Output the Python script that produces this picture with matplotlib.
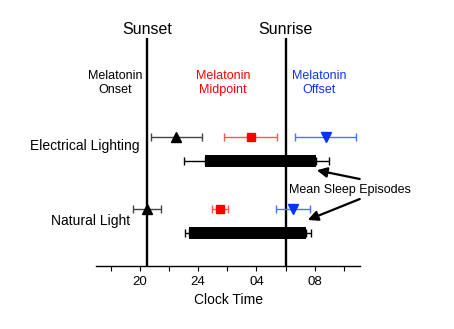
import matplotlib.pyplot as plt

plt.rcParams["font.family"] = ["Liberation Sans", "DejaVu Sans"]

# clock hours, values past 24 wrap to the next morning
conditions = ["Electrical Lighting", "Natural Light"]
onset_mean = [22.49, 20.50]
onset_sd = [1.75, 0.94]
midpoint_mean = [27.60, 25.50]
midpoint_sd = [1.83, 0.52]
offset_mean = [32.74, 30.50]
offset_sd = [2.07, 1.17]
sleep_start = [24.45, 23.36]
sleep_start_sd = [1.42, 0.28]
sleep_end = [32.08, 31.41]
sleep_end_sd = [0.89, 0.30]

sunset = 20.5
sunrise = 30.0
tick_hours = [18, 20, 22, 24, 26, 28, 30, 32, 34]
tick_labels = ["", "20", "", "24", "", "04", "", "08", ""]

marker_rows = [5.375, 2.375]
bar_rows = [4.375, 1.375]

fig = plt.figure(figsize=(4.54, 3.29), dpi=100)
ax = fig.add_axes([0.2115, 0.1915, 0.5815, 0.693])

ax.axvline(sunset, color="black", lw=1.7)
ax.axvline(sunrise, color="black", lw=1.7)
ax.text(sunset, 9.85, "Sunset", ha="center", va="center", fontsize=11.5)
ax.text(sunrise, 9.85, "Sunrise", ha="center", va="center", fontsize=11.5)

ax.text(18.3, 7.63, "Melatonin\nOnset", ha="center", va="center", fontsize=9,
        color="black", linespacing=1.2)
ax.text(25.7, 7.63, "Melatonin\nMidpoint", ha="center", va="center", fontsize=9,
        color="#ff0000", linespacing=1.2)
ax.text(32.3, 7.63, "Melatonin\nOffset", ha="center", va="center", fontsize=9,
        color="#1133ff", linespacing=1.2)

ax.errorbar(onset_mean, marker_rows, xerr=onset_sd, fmt="^", color="black",
            ecolor="#444444", ms=7, capsize=3, elinewidth=1, capthick=1)
ax.errorbar(midpoint_mean, marker_rows, xerr=midpoint_sd, fmt="s", color="#ff0000",
            ecolor="#ff5555", ms=5.5, capsize=3, elinewidth=1, capthick=1)
ax.errorbar(offset_mean, marker_rows, xerr=offset_sd, fmt="v", color="#0033ff",
            ecolor="#4477ff", ms=7, capsize=3, elinewidth=1, capthick=1)

widths = [e - s for s, e in zip(sleep_start, sleep_end)]
ax.barh(bar_rows, widths, left=sleep_start, height=0.46, color="black", zorder=3)
ax.errorbar(sleep_start, bar_rows, xerr=[sleep_start_sd, [0, 0]], fmt="none",
            ecolor="black", capsize=3, elinewidth=1, capthick=1)
ax.errorbar(sleep_end, bar_rows, xerr=[[0, 0], sleep_end_sd], fmt="none",
            ecolor="black", capsize=3, elinewidth=1, capthick=1)

ax.text(19.95, 5.0, conditions[0], ha="right", va="center", fontsize=10)
ax.text(19.33, 1.875, conditions[1], ha="right", va="center", fontsize=10)

ax.text(34.4, 3.17, "Mean Sleep Episodes", ha="center", va="center", fontsize=9)
arrow = dict(arrowstyle="-|>,head_length=0.5,head_width=0.25", color="black",
             lw=1.6, mutation_scale=12, shrinkA=0, shrinkB=0)
ax.annotate("", xy=(32.14, 3.99), xytext=(35.08, 3.625), arrowprops=arrow,
            annotation_clip=False)
ax.annotate("", xy=(31.52, 1.92), xytext=(35.08, 2.79), arrowprops=arrow,
            annotation_clip=False)

ax.set_xlim(17, 35.1)
ax.set_ylim(0, 9.5)
ax.set_xticks(tick_hours)
ax.set_xticklabels(tick_labels, fontsize=9.5)
ax.tick_params(axis="x", length=3.5, width=0.8, pad=4)
ax.set_yticks([])
for side in ["top", "right", "left"]:
    ax.spines[side].set_visible(False)
ax.spines["bottom"].set_linewidth(1.0)
ax.set_xlabel("Clock Time", fontsize=10, labelpad=3)

fig.savefig("out.png", dpi=100)
